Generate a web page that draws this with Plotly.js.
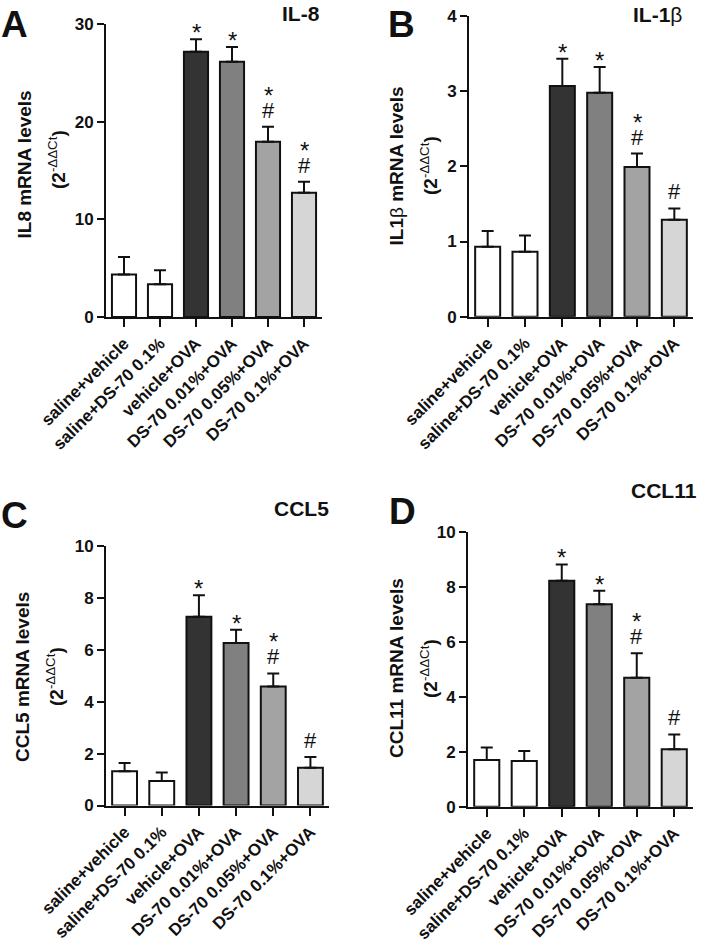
<!DOCTYPE html>
<html>
<head>
<meta charset="utf-8">
<script src="https://cdn.plot.ly/plotly-3.0.1.min.js"></script>
<style>html,body{margin:0;padding:0;background:#fff;}#chart{width:709px;height:948px;}</style>
</head>
<body>
<div id="chart"></div>
<script>
// ---- Data ----
var categories = ["saline+vehicle", "saline+DS-70 0.1%", "vehicle+OVA", "DS-70 0.01%+OVA", "DS-70 0.05%+OVA", "DS-70 0.1%+OVA"];
var barColors = ["#ffffff", "#ffffff", "#333333", "#808080", "#a3a3a3", "#d6d6d6"];

var il8Values = [4.35, 3.35, 27.16, 26.14, 17.94, 12.71];
var il8Errors = [1.80, 1.44, 1.27, 1.50, 1.54, 1.13];
var il8Star = [false, false, true, true, true, true];
var il8Hash = [false, false, false, false, true, true];

var il1bValues = [0.93, 0.865, 3.07, 2.98, 1.99, 1.29];
var il1bErrors = [0.21, 0.215, 0.36, 0.34, 0.18, 0.15];
var il1bStar = [false, false, true, true, true, false];
var il1bHash = [false, false, false, false, true, true];

var ccl5Values = [1.32, 0.94, 7.27, 6.26, 4.59, 1.45];
var ccl5Errors = [0.32, 0.33, 0.83, 0.51, 0.50, 0.42];
var ccl5Star = [false, false, true, true, true, false];
var ccl5Hash = [false, false, false, false, true, true];

var ccl11Values = [1.70, 1.66, 8.22, 7.36, 4.69, 2.09];
var ccl11Errors = [0.45, 0.37, 0.59, 0.49, 0.89, 0.54];
var ccl11Star = [false, false, true, true, true, false];
var ccl11Hash = [false, false, false, false, true, true];

// ---- Build ----
var FONT = "Liberation Sans, Arial, sans-serif";
var W = 709, H = 948;
function px(x) { return x / W; }
function py(y) { return 1 - y / H; }

var panels = [
  {vals: il8Values, errs: il8Errors, star: il8Star, hash: il8Hash, xa: "x", ya: "y",
   xdom: [106, 322], ydom: [317, 24], yrange: [0, 30], dtick: 10,
   letter: "A", letterPos: [15, 24], title: "<b>IL-8</b>", titlePos: [301, 13],
   ytitle: "<b>IL8 mRNA levels</b>", yt1: [23.5, 165], yt2: [57, 160]},
  {vals: il1bValues, errs: il1bErrors, star: il1bStar, hash: il1bHash, xa: "x2", ya: "y2",
   xdom: [469, 693], ydom: [316.7, 16], yrange: [0, 4], dtick: 1,
   letter: "B", letterPos: [401, 24], title: "<b>IL-1</b>β", titlePos: [657, 14],
   ytitle: "<b>IL1</b>β<b> mRNA levels</b>", yt1: [396.5, 166], yt2: [429, 165]},
  {vals: ccl5Values, errs: ccl5Errors, star: ccl5Star, hash: ccl5Hash, xa: "x3", ya: "y3",
   xdom: [106, 329], ydom: [805.5, 546], yrange: [0, 10], dtick: 2,
   letter: "C", letterPos: [15, 515], title: "<b>CCL5</b>", titlePos: [301, 508],
   ytitle: "<b>CCL5 mRNA levels</b>", yt1: [22, 677], yt2: [55, 677]},
  {vals: ccl11Values, errs: ccl11Errors, star: ccl11Star, hash: ccl11Hash, xa: "x4", ya: "y4",
   xdom: [468, 693], ydom: [806.7, 531.7], yrange: [0, 10], dtick: 2,
   letter: "D", letterPos: [402, 511], title: "<b>CCL11</b>", titlePos: [664, 490],
   ytitle: "<b>CCL11 mRNA levels</b>", yt1: [396, 668], yt2: [429, 668]}
];

var data = [];
var layout = {
  width: W, height: H,
  margin: {l: 0, r: 0, t: 0, b: 0},
  paper_bgcolor: "#ffffff", plot_bgcolor: "rgba(0,0,0,0)",
  showlegend: false,
  font: {family: FONT, color: "#111111"},
  annotations: []
};

var boldCats = categories.map(function (c) { return "<b>" + c + "</b>"; });

panels.forEach(function (p, i) {
  var zeros = p.vals.map(function () { return 0; });
  data.push({
    type: "bar", x: categories, y: p.vals, xaxis: p.xa, yaxis: p.ya,
    width: 0.67,
    marker: {color: barColors, line: {color: "#111111", width: 2}},
    error_y: {type: "data", symmetric: false, array: p.errs, arrayminus: zeros,
              color: "#111111", thickness: 2, width: 6},
    hoverinfo: "skip"
  });
  var suffix = i === 0 ? "" : String(i + 1);
  var yt = [];
  for (var v = p.yrange[0]; v <= p.yrange[1] + 1e-9; v += p.dtick) yt.push(v);
  layout["xaxis" + suffix] = {
    domain: [px(p.xdom[0]), px(p.xdom[1])], anchor: p.ya, type: "category",
    range: [-0.5, 5.5], showline: true, linecolor: "#111111", linewidth: 2,
    tickmode: "array", tickvals: categories, ticktext: boldCats,
    ticks: "outside", ticklen: 8, tickwidth: 2, tickcolor: "#111111",
    tickangle: -45, tickfont: {family: FONT, size: 17, color: "#111111"},
    showgrid: false, zeroline: false, fixedrange: true
  };
  layout["yaxis" + suffix] = {
    domain: [py(p.ydom[0]), py(p.ydom[1])], anchor: p.xa,
    range: p.yrange, tickmode: "array", tickvals: yt,
    ticktext: yt.map(function (t) { return "<b>" + t + "</b>"; }),
    showline: true, linecolor: "#111111", linewidth: 2,
    ticks: "outside", ticklen: 7, tickwidth: 2, tickcolor: "#111111",
    tickfont: {family: FONT, size: 17, color: "#111111"},
    showgrid: false, zeroline: false, fixedrange: true
  };
  // significance markers
  for (var k = 0; k < categories.length; k++) {
    var top = p.vals[k] + p.errs[k];
    if (p.hash[k]) {
      layout.annotations.push({xref: p.xa, yref: p.ya, x: categories[k], y: top,
        text: "#", showarrow: false, yanchor: "bottom", yshift: 2,
        font: {family: FONT, size: 22, color: "#111111"}});
    }
    if (p.star[k]) {
      layout.annotations.push({xref: p.xa, yref: p.ya, x: categories[k], y: top,
        text: "*", showarrow: false, yanchor: "bottom", yshift: p.hash[k] ? 16 : -9,
        font: {family: FONT, size: 24, color: "#111111"}});
    }
  }
  // panel letter & title
  layout.annotations.push({xref: "paper", yref: "paper", x: px(p.letterPos[0]), y: py(p.letterPos[1]),
    text: "<b>" + p.letter + "</b>", showarrow: false, xanchor: "center", yanchor: "middle",
    font: {family: FONT, size: 37, color: "#111111"}});
  layout.annotations.push({xref: "paper", yref: "paper", x: px(p.titlePos[0]), y: py(p.titlePos[1]),
    text: p.title, showarrow: false, xanchor: "center", yanchor: "middle",
    font: {family: FONT, size: 21, color: "#111111"}});
  // y titles
  layout.annotations.push({xref: "paper", yref: "paper", x: px(p.yt1[0]), y: py(p.yt1[1]),
    text: p.ytitle, showarrow: false, textangle: -90, xanchor: "center", yanchor: "middle",
    font: {family: FONT, size: 19, color: "#111111"}});
  layout.annotations.push({xref: "paper", yref: "paper", x: px(p.yt2[0]), y: py(p.yt2[1]),
    text: "<b>(2</b><sup>-ΔΔCt</sup><b>)</b>", showarrow: false, textangle: -90, xanchor: "center", yanchor: "middle",
    font: {family: FONT, size: 19, color: "#111111"}});
});

Plotly.newPlot("chart", data, layout, {staticPlot: true, displayModeBar: false});
</script>
</body>
</html>
